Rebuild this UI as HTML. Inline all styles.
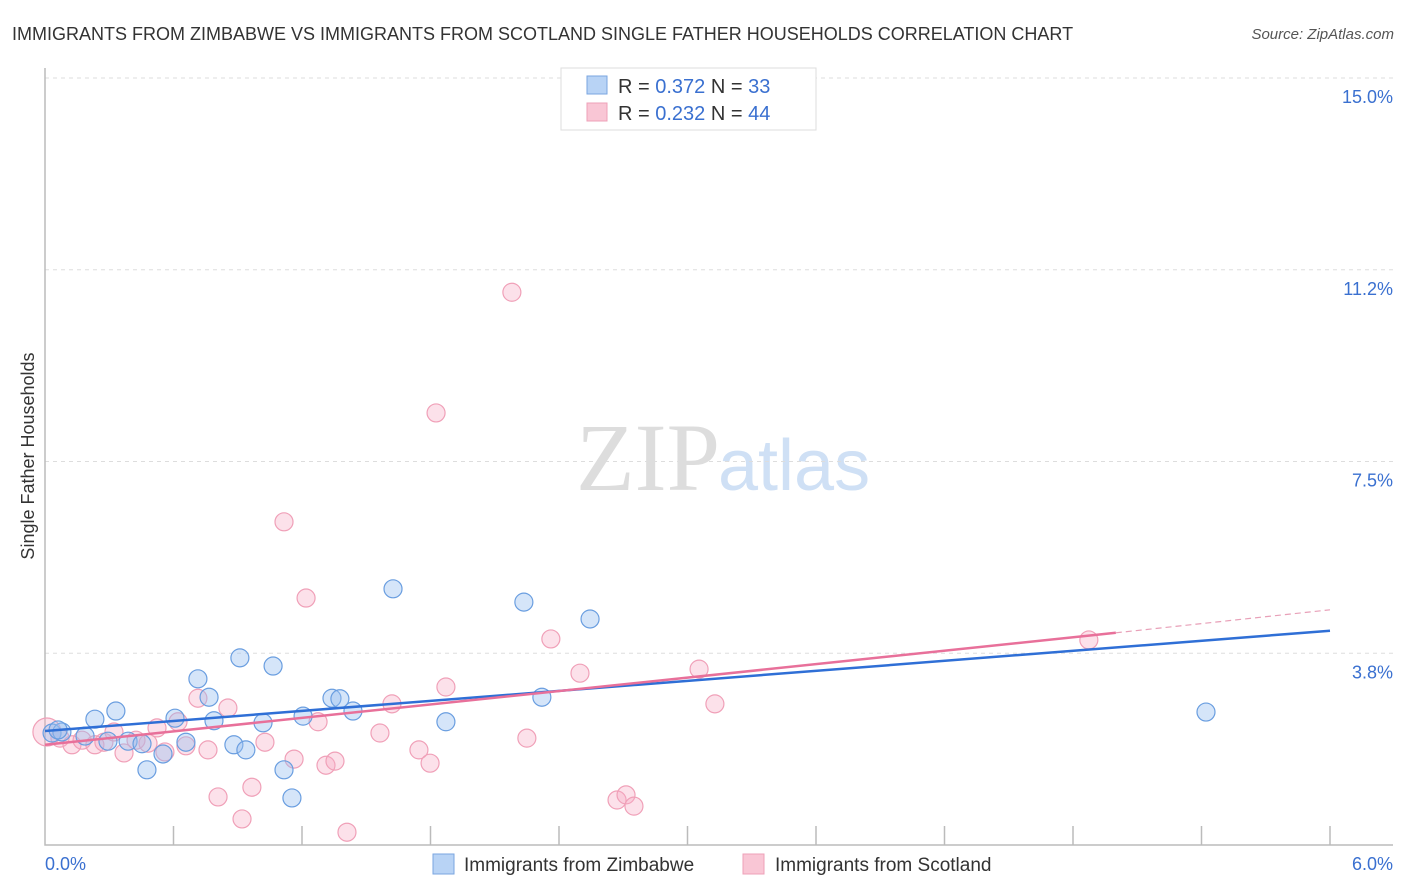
<!DOCTYPE html>
<html><head><meta charset="utf-8"><style>
body{margin:0;background:#fff;font-family:"Liberation Sans",sans-serif;}
#wrap{position:relative;width:1406px;height:892px;overflow:hidden;}
</style></head><body>
<div id="wrap">
<svg id="chart" width="1406" height="892" xmlns="http://www.w3.org/2000/svg">
<text x="12" y="40" font-size="18" fill="#333">IMMIGRANTS FROM ZIMBABWE VS IMMIGRANTS FROM SCOTLAND SINGLE FATHER HOUSEHOLDS CORRELATION CHART</text>
<text x="1394" y="39" font-size="15" fill="#555" font-style="italic" text-anchor="end">Source: ZipAtlas.com</text>
<text x="720" y="490" font-size="96" fill="#ddd" text-anchor="end" font-family="Liberation Serif,serif">ZIP</text>
<text x="718" y="490" font-size="72" fill="#cfe0f5">atlas</text>
<text x="34" y="456" font-size="18" fill="#333" text-anchor="middle" transform="rotate(-90 34 456)">Single Father Households</text>
<g id="grid"></g><g id="marks"></g>
<g>
<rect x="561" y="68" width="255" height="62" fill="#fff" stroke="#ddd"/>
<rect x="587" y="76" width="20" height="18" fill="#b8d3f5" stroke="#7aa6e0"/>
<rect x="587" y="103" width="20" height="18" fill="#f9c6d5" stroke="#eea0b8"/>
<text x="618" y="93" font-size="20" fill="#333">R = <tspan fill="#3a70d0">0.372</tspan>   N = <tspan fill="#3a70d0"> 33</tspan></text>
<text x="618" y="120" font-size="20" fill="#333">R = <tspan fill="#3a70d0">0.232</tspan>   N = <tspan fill="#3a70d0">44</tspan></text>
</g>
<g>
<rect x="433" y="854" width="21" height="20" fill="#b8d3f5" stroke="#7aa6e0"/>
<text x="464" y="871" font-size="19" fill="#333">Immigrants from Zimbabwe</text>
<rect x="743" y="854" width="21" height="20" fill="#f9c6d5" stroke="#eea0b8"/>
<text x="775" y="871" font-size="19" fill="#333">Immigrants from Scotland</text>
</g>
</svg></div>
<script>
const yTicks=[3.75,7.5,11.25,15];
const yTickLabels=["3.8%","7.5%","11.2%","15.0%"];
const xTickCount=10;
const xLabels=["0.0%","6.0%"];
const blueX=[0.033,0.079,0.187,0.233,0.294,0.331,0.388,0.453,0.476,0.551,0.607,0.658,0.714,0.766,0.789,0.882,0.910,0.938,1.018,1.065,1.116,1.153,1.205,1.340,1.377,1.438,1.625,1.872,2.236,2.320,2.545,5.421,0.061];
const blueY=[2.19,2.21,2.13,2.46,2.03,2.62,2.03,1.98,1.47,1.78,2.48,2.01,3.25,2.89,2.43,1.96,3.66,1.86,2.39,3.50,1.47,0.92,2.52,2.87,2.86,2.62,5.01,2.41,4.75,2.89,4.42,2.60,2.25];
const pinkX=[0.009,0.070,0.126,0.173,0.233,0.275,0.322,0.369,0.425,0.481,0.523,0.560,0.621,0.658,0.714,0.761,0.808,0.854,0.920,0.966,1.027,1.116,1.163,1.219,1.275,1.312,1.354,1.410,1.564,1.620,1.746,1.798,1.826,1.872,2.180,2.250,2.362,2.498,2.671,2.713,2.750,3.054,3.128,4.874];
const pinkY=[2.21,2.09,1.96,2.05,1.96,2.01,2.21,1.80,2.05,1.99,2.29,1.82,2.41,1.94,2.87,1.86,0.94,2.68,0.51,1.13,2.01,6.32,1.68,4.83,2.41,1.56,1.64,0.25,2.19,2.76,1.86,1.60,8.45,3.09,10.81,2.09,4.03,3.36,0.88,0.98,0.76,3.44,2.76,4.01];
const blueTrend=[2.23,4.19];
const pinkTrend=[1.96,4.15,4.60];
const pinkSolidEnd=5.0;
const X=v=>45+v/6*1285, Y=v=>845-v/15*767;
const NS="http://www.w3.org/2000/svg";
function mk(tag,attrs,parent){const e=document.createElementNS(NS,tag);for(const k in attrs)e.setAttribute(k,attrs[k]);parent.appendChild(e);return e;}
const grid=document.getElementById('grid'),marks=document.getElementById('marks');
yTicks.forEach((t,i)=>{
 const l=mk('line',{x1:45,x2:1393,y1:Y(t),y2:Y(t),stroke:'#ddd','stroke-dasharray':'4,4'},grid);
 
 
 const tx=mk('text',{x:1393,y:Y(t)+25,'font-size':18,fill:'#3a70d0','text-anchor':'end'},grid);
 tx.textContent=yTickLabels[i];
 
 
});
const ax=mk('path',{d:'M45 68V845H1393',fill:'none',stroke:'#bbb','stroke-width':1.5},grid);


for(let i=1;i<=xTickCount;i++){
 const t=mk('line',{x1:X(i*0.6),x2:X(i*0.6),y1:826,y2:845,stroke:'#bbb','stroke-width':1.5},grid);
 
 
}
[[0,'start',45],[6,'end',1393]].forEach((a,i)=>{
 const t=mk('text',{x:a[2],y:870,'font-size':18,fill:'#3a70d0','text-anchor':a[1]},grid);
 t.textContent=xLabels[i];
 
 
});
function pts(xs,ys,fill,stroke,name){
 xs.forEach((x,i)=>{
  const r=(name==='scotland-point'&&i===0)?14:9;
  const c=mk('circle',{cx:X(x),cy:Y(ys[i]),r:r,fill:fill,stroke:stroke,'stroke-width':1.2},marks);
  
  
 });
}
pts(pinkX,pinkY,'rgba(245,170,195,0.35)','#f0a0b8','scotland-point');
pts(blueX,blueY,'rgba(150,190,240,0.4)','#6a9ee0','zimbabwe-point');
const bl=mk('line',{x1:X(0),y1:Y(blueTrend[0]),x2:X(6),y2:Y(blueTrend[1]),stroke:'#2f6fd6','stroke-width':2.5},marks);


const pl=mk('line',{x1:X(0),y1:Y(pinkTrend[0]),x2:X(pinkSolidEnd),y2:Y(pinkTrend[1]),stroke:'#e8709a','stroke-width':2.5},marks);


const pd=mk('line',{x1:X(pinkSolidEnd),y1:Y(pinkTrend[1]),x2:X(6),y2:Y(pinkTrend[2]),stroke:'#e8a0b8','stroke-width':1.2,'stroke-dasharray':'6,4'},marks);


</script>
</body></html>
